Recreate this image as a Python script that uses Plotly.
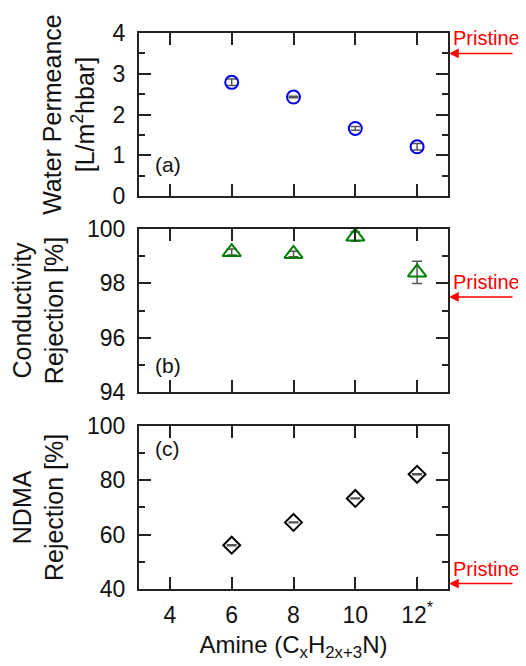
import plotly.graph_objects as go
from plotly.subplots import make_subplots

# ---------------- data ----------------
amine_x = [6, 8, 10, 12]
x_tick_vals = [4, 6, 8, 10, 12]
x_tick_text = ["4", "6", "8", "10", "12<sup>*</sup>"]

perm = [2.79, 2.43, 1.66, 1.21]
perm_err = [0.08, 0.02, 0.045, 0.08]

cond = [99.15, 99.08, 99.72, 98.4]
cond_err = [0.11, 0.1, 0.17, 0.41]

ndma = [56.1, 64.5, 73.3, 82.2]
ndma_err = [0.15, 0.15, 0.15, 0.15]

pristine_vals = [3.5, 97.5, 42.0]
panel_labels = ["(a)", "(b)", "(c)"]
y_titles = ["Water Permeance<br>[L/m<sup>2</sup>hbar]",
            "Conductivity<br>Rejection [%]",
            "NDMA<br>Rejection [%]"]
x_title = "Amine (C<sub>x</sub>H<sub>2x+3</sub>N)"

# ---------------- figure ----------------
FONT = "Liberation Sans, Arial, sans-serif"
AX = "#222222"
ERR = "#555555"

fig = make_subplots(rows=3, cols=1, shared_xaxes=True)

series = [
    (perm, perm_err, "circle-open", "#0000ee", 13),
    (cond, cond_err, "triangle-up-open", "#008000", 16),
    (ndma, ndma_err, "diamond-open", "#000000", 13),
]
for i, (vals, errs, sym, col, sz) in enumerate(series):
    fig.add_trace(go.Scatter(
        x=amine_x, y=vals, mode="markers",
        marker=dict(symbol=sym, size=sz, color=col, line=dict(width=2, color=col)),
        error_y=dict(type="data", array=errs, visible=True, color=ERR,
                     thickness=1.5, width=5),
        showlegend=False), row=i + 1, col=1)

domains = [[0.7066, 1.0], [0.3542, 0.6476], [0.0, 0.2934]]
yranges = [[0, 4], [94, 100], [40, 100]]
ydticks = [1, 2, 20]
yminor = [0.5, 1, 10]
standoffs = [11, 17, 17]

common = dict(showline=True, linewidth=2, linecolor=AX, mirror="allticks",
              ticks="inside", ticklen=12, tickwidth=2, tickcolor=AX,
              showgrid=False, zeroline=False,
              tickfont=dict(family=FONT, size=23, color="#111111"))

for i in range(3):
    yname = "yaxis" if i == 0 else f"yaxis{i+1}"
    fig.layout[yname].update(
        domain=domains[i], range=yranges[i], dtick=ydticks[i], tick0=0,
        minor=dict(ticks="inside", ticklen=6, tickwidth=2, tickcolor=AX,
                   dtick=yminor[i], tick0=0, showgrid=False),
        ticklabelstandoff=7,
        title=dict(text=y_titles[i], standoff=standoffs[i],
                   font=dict(family=FONT, size=25, color="#111111")),
        **common)
    xname = "xaxis" if i == 0 else f"xaxis{i+1}"
    fig.layout[xname].update(
        range=[3, 13], tickmode="array", tickvals=x_tick_vals,
        ticktext=x_tick_text, showticklabels=(i == 2),
        ticklabelstandoff=4, **common)

fig.layout.xaxis3.title = dict(text=x_title, standoff=10,
                               font=dict(family=FONT, size=24, color="#111111"))

ann = []
yref_names = ["y", "y2", "y3"]
label_y = [0.195, 0.165, 0.86]
for i in range(3):
    xr = "x domain" if i == 0 else f"x{i+1} domain"
    # arrow
    ann.append(dict(x=1, y=pristine_vals[i], xref=xr, yref=yref_names[i],
                    text="", showarrow=True, ax=66, ay=0,
                    arrowhead=2, arrowsize=1.3, arrowwidth=1.5,
                    arrowcolor="#ff0000", standoff=1))
    # text
    ann.append(dict(x=1, y=pristine_vals[i], xref=xr, yref=yref_names[i],
                    text="Pristine", showarrow=False, xanchor="left",
                    yanchor="middle", xshift=3, yshift=15,
                    font=dict(family=FONT, size=20, color="#ff0000")))
    # panel label
    yd = "y domain" if i == 0 else f"y{i+1} domain"
    ann.append(dict(x=0.045, y=label_y[i], xref=xr, yref=yd,
                    text=panel_labels[i], showarrow=False, xanchor="left",
                    yanchor="middle",
                    font=dict(family=FONT, size=21, color="#111111")))

# page body adds an 8px offset, so the figure is drawn 8px smaller on each side
fig.update_layout(
    width=518, height=658,
    margin=dict(l=126, r=78, t=23, b=76),
    paper_bgcolor="white", plot_bgcolor="white",
    annotations=ann,
    font=dict(family=FONT),
)

fig.write_html("out.html")
